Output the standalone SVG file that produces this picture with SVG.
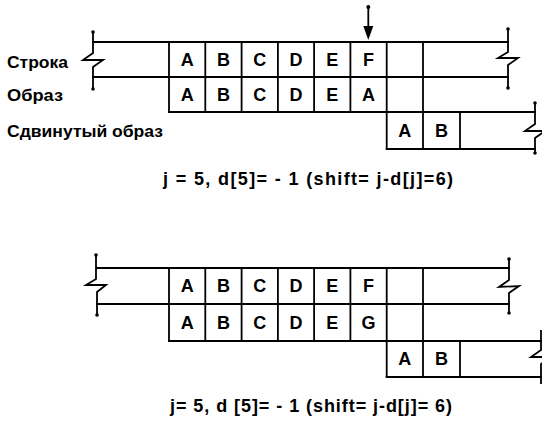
<svg xmlns="http://www.w3.org/2000/svg" width="542" height="421" viewBox="0 0 542 421">
<defs>
<style>
.ln{stroke:#000;stroke-width:2;fill:none;stroke-linecap:square}
.cl{stroke:#000;stroke-width:1.8;fill:none}
.zz{stroke:#000;stroke-width:1.8;fill:none;stroke-linejoin:miter}
.lt{font-family:"Liberation Sans",Arial,sans-serif;font-weight:bold;font-size:18px;text-anchor:middle;fill:#000}
.lb{font-family:"Liberation Sans",Arial,sans-serif;font-weight:bold;font-size:16px;fill:#000}
.fm{font-family:"Liberation Sans",Arial,sans-serif;font-weight:bold;font-size:18px;fill:#000}
.dt{fill:#000}
</style>
</defs>
<rect width="542" height="421" fill="#fff"/>

<!-- ===== Diagram 1 ===== -->
<g id="labels1">
<text class="lb" x="7" y="68" textLength="61" lengthAdjust="spacingAndGlyphs">Строка</text>
<text class="lb" x="7" y="101" textLength="56" lengthAdjust="spacingAndGlyphs">Образ</text>
<text class="lb" x="7" y="137" textLength="156" lengthAdjust="spacingAndGlyphs">Сдвинутый образ</text>
</g>

<g id="string1">
<line class="ln" x1="93" y1="42" x2="508" y2="42"/>
<line class="ln" x1="93" y1="77" x2="508" y2="77"/>
<path class="zz" d="M93 32 V53 L83 60 L103 60 L93 67 V89"/>
<circle class="dt" cx="93" cy="32" r="1.8"/><circle class="dt" cx="93" cy="89" r="1.8"/>
<path class="zz" d="M508 29 V52 L498 58 L518 58 L508 65 V88"/>
<circle class="dt" cx="508" cy="29" r="1.8"/><circle class="dt" cx="508" cy="88" r="1.8"/>
<path class="cl" d="M169 42 V112 M205.3 42 V112 M241.6 42 V112 M277.9 42 V112 M314.1 42 V112 M350.4 42 V112 M386.7 42 V149 M423 42 V149"/>
<text class="lt" x="187.2" y="66">A</text>
<text class="lt" x="223.5" y="66">B</text>
<text class="lt" x="259.8" y="66">C</text>
<text class="lt" x="296" y="66">D</text>
<text class="lt" x="332.3" y="66">E</text>
<text class="lt" x="368.6" y="66">F</text>
</g>

<g id="pattern1">
<line class="ln" x1="169" y1="112" x2="535" y2="112"/>
<text class="lt" x="187.2" y="101">A</text>
<text class="lt" x="223.5" y="101">B</text>
<text class="lt" x="259.8" y="101">C</text>
<text class="lt" x="296" y="101">D</text>
<text class="lt" x="332.3" y="101">E</text>
<text class="lt" x="368.6" y="101">A</text>
</g>

<g id="shifted1">
<line class="ln" x1="386.7" y1="149" x2="535" y2="149"/>
<path class="cl" d="M460 112 V149"/>
<path class="zz" d="M535 103 V124 L525 131 L545 131 L535 138 V153"/>
<circle class="dt" cx="535" cy="103" r="1.8"/><circle class="dt" cx="535" cy="153" r="1.8"/>
<text class="lt" x="404.8" y="137">A</text>
<text class="lt" x="441.5" y="137">B</text>
</g>

<g id="connectors">
<line class="cl" x1="368.3" y1="7" x2="368.3" y2="28"/>
<circle class="dt" cx="368.3" cy="7" r="2"/>
<polygon class="dt" points="363.3,26 373.3,26 368.3,40"/>
</g>

<g id="formula1">
<text class="fm" x="163" y="185" textLength="290" lengthAdjust="spacing">j = 5, d[5]= - 1 (shift= j-d[j]=6)</text>
</g>

<!-- ===== Diagram 2 ===== -->
<g id="string2">
<line class="ln" x1="97" y1="268" x2="509" y2="268"/>
<line class="ln" x1="97" y1="304" x2="509" y2="304"/>
<path class="zz" d="M96 255 V279 L86 285 L106 285 L97 292 V315"/>
<circle class="dt" cx="96" cy="255" r="1.8"/><circle class="dt" cx="97" cy="315" r="1.8"/>
<path class="zz" d="M509 259 V280 L499 287 L519 286 L509 293 V313"/>
<circle class="dt" cx="509" cy="259" r="1.8"/><circle class="dt" cx="509" cy="313" r="1.8"/>
<path class="cl" d="M169 268 V341 M205.3 268 V341 M241.6 268 V341 M277.9 268 V341 M314.1 268 V341 M350.4 268 V341 M386.7 268 V377 M423 268 V377"/>
<text class="lt" x="187.2" y="292">A</text>
<text class="lt" x="223.5" y="292">B</text>
<text class="lt" x="259.8" y="292">C</text>
<text class="lt" x="296" y="292">D</text>
<text class="lt" x="332.3" y="292">E</text>
<text class="lt" x="368.6" y="292">F</text>
</g>

<g id="pattern2">
<line class="ln" x1="169" y1="341" x2="542" y2="341"/>
<text class="lt" x="187.2" y="329">A</text>
<text class="lt" x="223.5" y="329">B</text>
<text class="lt" x="259.8" y="329">C</text>
<text class="lt" x="296" y="329">D</text>
<text class="lt" x="332.3" y="329">E</text>
<text class="lt" x="368.6" y="329">G</text>
</g>

<g id="shifted2">
<line class="ln" x1="386.7" y1="377" x2="542" y2="377"/>
<path class="cl" d="M460 341 V377"/>
<path class="zz" d="M541 330 V350 L531 357 L551 357 L541 364 V384"/>
<text class="lt" x="404.8" y="365">A</text>
<text class="lt" x="441.5" y="365">B</text>
</g>

<g id="formula2">
<text class="fm" x="170" y="412" textLength="282" lengthAdjust="spacing">j= 5, d [5]= - 1 (shift= j-d[j]= 6)</text>
</g>
</svg>
